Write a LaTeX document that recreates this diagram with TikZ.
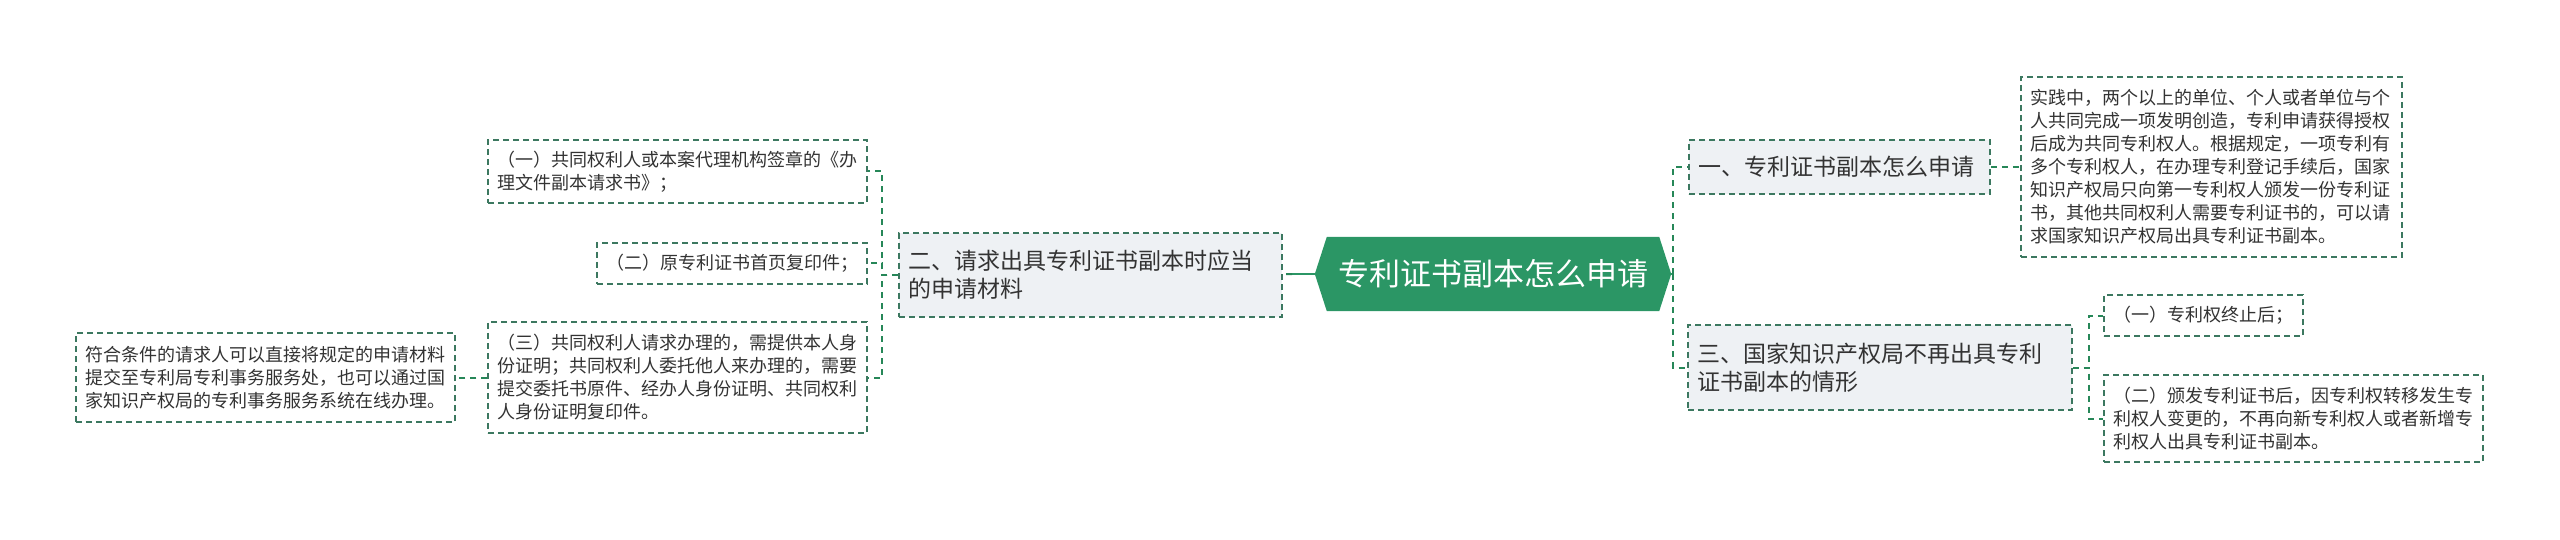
\documentclass[tikz,border=0pt]{standalone}
\usepackage{fontspec}
\setmainfont{Noto Sans CJK SC}
\usepackage{xcolor}
\usepackage{tikz}
\usetikzlibrary{backgrounds}
\definecolor{rootgreen}{RGB}{43,150,101}
\definecolor{edgegreen}{RGB}{60,120,96}
\definecolor{linkgreen}{RGB}{38,135,88}
\definecolor{boxfill}{RGB}{238,241,244}
\definecolor{textgray}{RGB}{51,51,51}

\begin{document}
\begin{tikzpicture}[x=1pt, y=-1pt,
    every node/.style={inner xsep=9pt, inner ysep=0pt, align=left, text=textgray},
    topic/.style={draw=edgegreen, line width=1.5pt, dash pattern=on 6pt off 4pt, fill=boxfill, font=\fontsize{23}{28.3}\selectfont},
    leaf/.style={draw=edgegreen, line width=1.5pt, dash pattern=on 6pt off 4pt, fill=white, font=\fontsize{18}{23}\selectfont},
    link/.style={draw=linkgreen, line width=2pt, dash pattern=on 6pt off 5pt},
    stub/.style={draw=rootgreen, line width=2.5pt}]
     \useasboundingbox (0,0) rectangle (2560,540);

     \node[text=white, align=center, font=\fontsize{31}{37}\selectfont, minimum width=332pt, minimum height=74pt] (root) at (1493,274) {专利证书副本怎么申请};
     \begin{scope}[on background layer]
       \fill[rootgreen] ([xshift=-12pt]root.west) -- (root.north west) -- (root.north east) -- ([xshift=12pt]root.east) -- (root.south east) -- (root.south west) -- cycle;
     \end{scope}
     \coordinate (rootL) at ([xshift=-12pt]root.west);
     \coordinate (rootR) at ([xshift=12pt]root.east);

     \node[topic, text width=283pt, minimum height=54pt] (B1) at (1839.5,167) {一、专利证书副本怎么申请};
     \node[topic, text width=366pt, minimum height=85pt] (B3) at (1880,367.5) {三、国家知识产权局不再出具专利\\证书副本的情形};
     \node[topic, text width=365pt, minimum height=84pt] (B2) at (1090.5,275) {二、请求出具专利证书副本时应当\\的申请材料};

     \node[leaf, text width=363pt, minimum height=180pt] (D1) at (2211.5,167) {实践中，两个以上的单位、个人或者单位与个\\人共同完成一项发明创造，专利申请获得授权\\后成为共同专利权人。根据规定，一项专利有\\多个专利权人，在办理专利登记手续后，国家\\知识产权局只向第一专利权人颁发一份专利证\\书，其他共同权利人需要专利证书的，可以请\\求国家知识产权局出具专利证书副本。};
     \node[leaf, text width=181pt, minimum height=41pt] (D3a) at (2203.5,315.5) {（一）专利权终止后；};
     \node[leaf, text width=361pt, minimum height=87pt] (D3b) at (2293.5,418.5) {（二）颁发专利证书后，因专利权转移发生专\\利权人变更的，不再向新专利权人或者新增专\\利权人出具专利证书副本。};

     \node[leaf, text width=361pt, minimum height=63pt] (C1) at (677.5,171.5) {（一）共同权利人或本案代理机构签章的《办\\理文件副本请求书》；};
     \node[leaf, text width=252pt, minimum height=41pt] (C2) at (732,263.5) {（二）原专利证书首页复印件；};
     \node[leaf, text width=361pt, minimum height=111pt] (C3) at (677.5,377.5) {（三）共同权利人请求办理的，需提供本人身\\份证明；共同权利人委托他人来办理的，需要\\提交委托书原件、经办人身份证明、共同权利\\人身份证明复印件。};
     \node[leaf, text width=361pt, minimum height=89pt] (E) at (265.5,377.5) {符合条件的请求人可以直接将规定的申请材料\\提交至专利局专利事务服务处，也可以通过国\\家知识产权局的专利事务服务系统在线办理。};

     \coordinate (R) at (1673,274);
     \coordinate (L) at (1292,274);
     \draw[stub] (rootR) -- (R);
     \draw[stub] (rootL) -- (L);
     \draw[link] (R) |- (B1);
     \draw[link] (R) |- (B3);
     \draw[link] (L) -- (B2);
     \draw[link] (B1) -- (D1);
     \draw[link] (B3.east) -- ++(16,0) |- (D3a);
     \draw[link] (B3.east) -- ++(16,0) |- (D3b);
     \draw[link] (B2.west) -- ++(-16,0) |- (C1);
     \draw[link] (B2.west) -- ++(-16,0) |- (C2);
     \draw[link] (B2.west) -- ++(-16,0) |- (C3);
     \draw[link] (C3) -- (E);
 \end{tikzpicture}
\end{document}
